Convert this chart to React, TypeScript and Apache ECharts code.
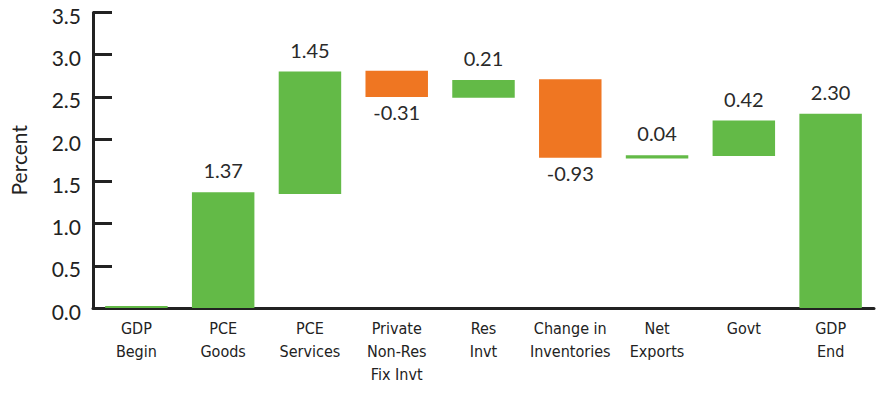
import React, { useEffect, useRef } from "react";
import * as echarts from "echarts";

const categories = [
  "GDP\nBegin",
  "PCE\nGoods",
  "PCE\nServices",
  "Private\nNon-Res\nFix Invt",
  "Res\nInvt",
  "Change in\nInventories",
  "Net\nExports",
  "Govt",
  "GDP\nEnd",
];
// contribution shown on each bar (null = no label)
const contributions: (number | null)[] = [null, 1.37, 1.45, -0.31, 0.21, -0.93, 0.04, 0.42, 2.3];
// where each bar starts (total bars start at 0)
const barStarts = [0, 0, 1.35, 2.81, 2.49, 2.71, 1.77, 1.8, 0];
const yTicks = [0, 0.5, 1, 1.5, 2, 2.5, 3, 3.5];

const GREEN = "#63ba47";
const ORANGE = "#ef7622";
const INK = "#222222";

export default function App() {
  const ref = useRef<HTMLDivElement>(null);
  useEffect(() => {
    if (!ref.current) return;
    const chart = echarts.init(ref.current, null, { renderer: "svg" });
    const base = barStarts.map((s, i) => {
      const c = contributions[i] ?? 0;
      return c < 0 ? s + c : s;
    });
    const delta = contributions.map((c) => ({
      value: Math.abs(c ?? 0),
      itemStyle: { color: (c ?? 0) < 0 ? ORANGE : GREEN },
      label: { position: (c ?? 0) < 0 ? "bottom" : "top", distance: (c ?? 0) < 0 ? 5 : 12 },
    }));
    chart.setOption({
      animation: false,
      grid: { left: 92, right: 8, top: 12.5, bottom: 89, containLabel: false },
      xAxis: {
        type: "category",
        data: categories,
        axisLine: { lineStyle: { color: INK, width: 3 } },
        axisTick: { inside: true, length: 7, lineStyle: { color: INK, width: 3 } },
        axisLabel: {
          interval: 0,
          margin: 9,
          fontFamily: "'Liberation Sans Narrow', 'DejaVu Sans Condensed', sans-serif",
          fontSize: 16,
          lineHeight: 23,
          color: INK,
        },
      },
      yAxis: {
        type: "value",
        min: 0,
        max: 3.5,
        interval: 0.5,
        name: "Percent",
        nameLocation: "middle",
        nameGap: 64,
        nameTextStyle: { fontFamily: "Lato, 'Open Sans', sans-serif", fontSize: 21, color: INK },
        axisLine: { show: true, lineStyle: { color: INK, width: 3 } },
        axisTick: { show: true, inside: true, length: 19, lineStyle: { color: INK, width: 3 } },
        splitLine: { show: false },
        axisLabel: {
          margin: 12,
          verticalAlign: "top",
          lineHeight: 6,
          fontFamily: "Lato, 'Open Sans', sans-serif",
          fontSize: 21,
          color: INK,
          formatter: (v: number) => {
            const t = yTicks.find((x) => Math.abs(x - v) < 1e-9);
            return t === undefined ? "" : t.toFixed(1);
          },
        },
      },
      series: [
        {
          type: "bar",
          stack: "w",
          data: base,
          itemStyle: { color: "transparent" },
          silent: true,
          barWidth: "72%",
        },
        {
          type: "bar",
          stack: "w",
          data: delta,
          barWidth: "72%",
          barMinHeight: 2,
          label: {
            show: true,
            fontFamily: "Lato, 'Open Sans', sans-serif",
            fontSize: 20,
            color: "#2a2a2a",
            formatter: (p: any) => {
              const c = contributions[p.dataIndex];
              return c === null ? "" : c.toFixed(2);
            },
          },
        },
      ],
    });
    return () => chart.dispose();
  }, []);
  return (
    <div
      ref={ref}
      style={{ position: "absolute", left: 0, top: 0, width: 882, height: 397 }}
    />
  );
}
